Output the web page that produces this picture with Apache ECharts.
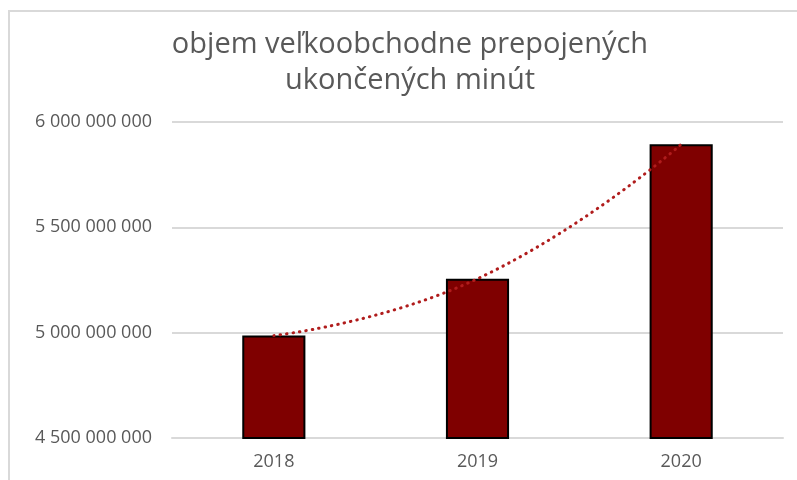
<!DOCTYPE html>
<html>
<head>
<meta charset="utf-8">
<script src="https://cdn.jsdelivr.net/npm/echarts@6/dist/echarts.min.js"></script>
<style>
html,body{margin:0;padding:0;background:#fff;}
#chart{width:797px;height:480px;}
</style>
</head>
<body>
<div id="chart"></div>
<script>
const titleLines = ['objem veľkoobchodne prepojených', 'ukončených minút'];
const categories = ['2018', '2019', '2020'];
const values = [4986000000, 5256000000, 5894000000];
const yMin = 4500000000;
const yMax = 6000000000;
const yInterval = 500000000;

function fmt(v) {
  return String(Math.round(v)).replace(/\B(?=(\d{3})+(?!\d))/g, ' ');
}

const chart = echarts.init(document.getElementById('chart'), null, {renderer: 'canvas'});
chart.setOption({
  animation: false,
  backgroundColor: '#ffffff',
  graphic: [
    {type: 'line', shape: {x1: 8, y1: 11, x2: 797, y2: 11}, style: {stroke: '#d9d9d9', lineWidth: 2}, silent: true},
    {type: 'line', shape: {x1: 9, y1: 10, x2: 9, y2: 480}, style: {stroke: '#d9d9d9', lineWidth: 2}, silent: true},
    {
      type: 'text',
      x: 410,
      y: 27,
      silent: true,
      style: {
        text: titleLines.join('\n'),
        align: 'center',
        verticalAlign: 'top',
        fontFamily: 'Open Sans',
        fontSize: 29,
        lineHeight: 36,
        fill: '#595959'
      }
    }
  ],
  grid: {left: 172, right: 14, top: 122, bottom: 42, containLabel: false},
  xAxis: {
    type: 'category',
    data: categories,
    axisTick: {show: false},
    axisLine: {lineStyle: {color: '#d9d9d9', width: 2}},
    axisLabel: {color: '#595959', fontSize: 18, fontFamily: 'Open Sans', margin: 15}
  },
  yAxis: {
    type: 'value',
    min: yMin,
    max: yMax,
    interval: yInterval,
    axisLine: {show: false},
    axisTick: {show: false},
    splitLine: {lineStyle: {color: '#d9d9d9', width: 2}},
    axisLabel: {color: '#595959', fontSize: 18, fontFamily: 'Open Sans', margin: 20, formatter: fmt}
  },
  series: [
    {
      type: 'bar',
      data: values,
      barWidth: '31%',
      itemStyle: {color: '#7f0000', borderColor: '#000000', borderWidth: 2}
    },
    {
      type: 'line',
      data: values,
      smooth: true,
      symbol: 'none',
      lineStyle: {color: '#b01c1c', width: 3, type: [0.5, 6], cap: 'round'},
      z: 3
    }
  ]
});
</script>
</body>
</html>
